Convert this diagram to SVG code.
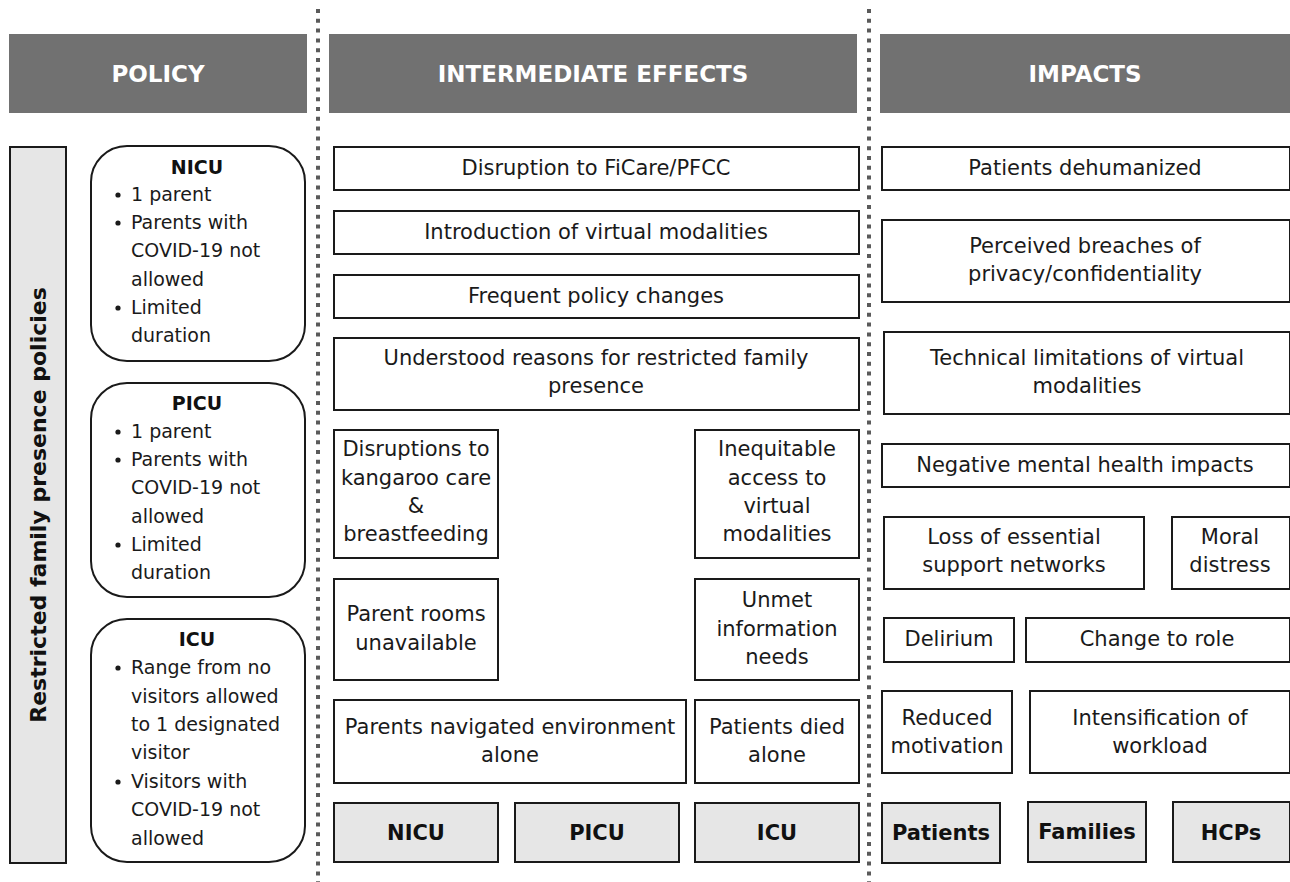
<svg xmlns="http://www.w3.org/2000/svg" width="1290" height="882" viewBox="0 0 1290 882">
<style>
  .hdr { fill: #717171; }
  .hdrt { font-family: "DejaVu Sans", sans-serif; font-weight: bold; font-size: 23px; fill: #ffffff; text-anchor: middle; }
  .vlab { font-family: "DejaVu Sans", sans-serif; font-weight: bold; font-size: 22px; fill: #111111; text-anchor: middle; }
  .box { fill: #ffffff; stroke: #1a1a1a; stroke-width: 2; }
  .gbox { fill: #e6e6e6; stroke: #1a1a1a; stroke-width: 2; }
  .t { font-family: "DejaVu Sans", sans-serif; font-size: 21px; fill: #1a1a1a; text-anchor: middle; }
  .tb { font-family: "DejaVu Sans", sans-serif; font-weight: bold; font-size: 21px; fill: #111111; text-anchor: middle; }
  .lt { font-family: "DejaVu Sans", sans-serif; font-size: 19px; fill: #1a1a1a; }
  .ltb { font-family: "DejaVu Sans", sans-serif; font-weight: bold; font-size: 19px; fill: #111111; text-anchor: middle; }
  .bul { fill: #1a1a1a; }
  .dots { stroke: #5a5a5a; stroke-width: 4; stroke-dasharray: 4 5.8; fill: none; }
</style>
<rect width="1290" height="882" fill="#ffffff"/>

<g id="dividers">
  <line class="dots" x1="318" y1="9" x2="318" y2="882"/>
  <line class="dots" x1="869" y1="9" x2="869" y2="882"/>
</g>

<g id="header-policy"><rect class="hdr" x="9" y="34" width="298" height="79"/><text class="hdrt" x="158" y="82">POLICY</text></g>
<g id="header-intermediate"><rect class="hdr" x="329" y="34" width="528" height="79"/><text class="hdrt" x="593" y="82">INTERMEDIATE EFFECTS</text></g>
<g id="header-impacts"><rect class="hdr" x="880" y="34" width="412" height="79"/><text class="hdrt" x="1085" y="82">IMPACTS</text></g>

<g id="policy-label">
  <rect class="gbox" x="10" y="147" width="56" height="716"/>
  <text class="vlab" transform="translate(46,505) rotate(-90)" x="0" y="0">Restricted family presence policies</text>
</g>

<g id="policy-nicu">
  <rect class="box" x="91" y="146" width="214" height="215" rx="36"/>
  <text class="ltb" x="197" y="174">NICU</text>
  <circle class="bul" cx="118" cy="195" r="2.6"/><text class="lt" x="131" y="201">1 parent</text>
  <circle class="bul" cx="118" cy="223" r="2.6"/><text class="lt" x="131" y="229">Parents with</text>
  <text class="lt" x="131" y="257">COVID-19 not</text>
  <text class="lt" x="131" y="286">allowed</text>
  <circle class="bul" cx="118" cy="308" r="2.6"/><text class="lt" x="131" y="314">Limited</text>
  <text class="lt" x="131" y="342">duration</text>
</g>

<g id="policy-picu">
  <rect class="box" x="91" y="383" width="214" height="214" rx="36"/>
  <text class="ltb" x="197" y="410">PICU</text>
  <circle class="bul" cx="118" cy="432" r="2.6"/><text class="lt" x="131" y="438">1 parent</text>
  <circle class="bul" cx="118" cy="460" r="2.6"/><text class="lt" x="131" y="466">Parents with</text>
  <text class="lt" x="131" y="494">COVID-19 not</text>
  <text class="lt" x="131" y="523">allowed</text>
  <circle class="bul" cx="118" cy="545" r="2.6"/><text class="lt" x="131" y="551">Limited</text>
  <text class="lt" x="131" y="579">duration</text>
</g>

<g id="policy-icu">
  <rect class="box" x="91" y="619" width="214" height="243" rx="36"/>
  <text class="ltb" x="197" y="646">ICU</text>
  <circle class="bul" cx="118" cy="668" r="2.6"/><text class="lt" x="131" y="674">Range from no</text>
  <text class="lt" x="131" y="703">visitors allowed</text>
  <text class="lt" x="131" y="731">to 1 designated</text>
  <text class="lt" x="131" y="759">visitor</text>
  <circle class="bul" cx="118" cy="782" r="2.6"/><text class="lt" x="131" y="788">Visitors with</text>
  <text class="lt" x="131" y="816">COVID-19 not</text>
  <text class="lt" x="131" y="845">allowed</text>
</g>

<g id="ie-ficare"><rect class="box" x="334" y="147" width="525" height="43"/><text class="t" x="596" y="175">Disruption to FiCare/PFCC</text></g>
<g id="ie-virtual"><rect class="box" x="334" y="211" width="525" height="43"/><text class="t" x="596" y="239">Introduction of virtual modalities</text></g>
<g id="ie-policy-changes"><rect class="box" x="334" y="275" width="525" height="43"/><text class="t" x="596" y="303">Frequent policy changes</text></g>
<g id="ie-understood"><rect class="box" x="334" y="338" width="525" height="72"/><text class="t" x="596" y="365">Understood reasons for restricted family</text><text class="t" x="596" y="393">presence</text></g>
<g id="ie-kangaroo"><rect class="box" x="334" y="430" width="164" height="128"/>
  <text class="t" x="416" y="456">Disruptions to</text><text class="t" x="416" y="485">kangaroo care</text><text class="t" x="416" y="513">&amp;</text><text class="t" x="416" y="541">breastfeeding</text></g>
<g id="ie-inequitable"><rect class="box" x="695" y="430" width="164" height="128"/>
  <text class="t" x="777" y="456">Inequitable</text><text class="t" x="777" y="485">access to</text><text class="t" x="777" y="513">virtual</text><text class="t" x="777" y="541">modalities</text></g>
<g id="ie-parent-rooms"><rect class="box" x="334" y="579" width="164" height="101"/>
  <text class="t" x="416" y="621">Parent rooms</text><text class="t" x="416" y="650">unavailable</text></g>
<g id="ie-unmet"><rect class="box" x="695" y="579" width="164" height="101"/>
  <text class="t" x="777" y="607">Unmet</text><text class="t" x="777" y="636">information</text><text class="t" x="777" y="664">needs</text></g>
<g id="ie-navigated"><rect class="box" x="334" y="700" width="352" height="83"/>
  <text class="t" x="510" y="734">Parents navigated environment</text><text class="t" x="510" y="762">alone</text></g>
<g id="ie-died"><rect class="box" x="695" y="700" width="164" height="83"/>
  <text class="t" x="777" y="734">Patients died</text><text class="t" x="777" y="762">alone</text></g>
<g id="ie-nicu"><rect class="gbox" x="334" y="803" width="164" height="59"/><text class="tb" x="416" y="840">NICU</text></g>
<g id="ie-picu"><rect class="gbox" x="515" y="803" width="164" height="59"/><text class="tb" x="597" y="840">PICU</text></g>
<g id="ie-icu"><rect class="gbox" x="695" y="803" width="164" height="59"/><text class="tb" x="777" y="840">ICU</text></g>

<g id="im-dehumanized"><rect class="box" x="882" y="147" width="408" height="43"/><text class="t" x="1085" y="175">Patients dehumanized</text></g>
<g id="im-privacy"><rect class="box" x="882" y="220" width="408" height="82"/><text class="t" x="1085" y="253">Perceived breaches of</text><text class="t" x="1085" y="281">privacy/confidentiality</text></g>
<g id="im-technical"><rect class="box" x="884" y="332" width="406" height="82"/><text class="t" x="1087" y="365">Technical limitations of virtual</text><text class="t" x="1087" y="393">modalities</text></g>
<g id="im-mental"><rect class="box" x="882" y="444" width="408" height="43"/><text class="t" x="1085" y="472">Negative mental health impacts</text></g>
<g id="im-support"><rect class="box" x="884" y="517" width="260" height="72"/><text class="t" x="1014" y="544">Loss of essential</text><text class="t" x="1014" y="572">support networks</text></g>
<g id="im-moral"><rect class="box" x="1172" y="517" width="118" height="72"/><text class="t" x="1230" y="544">Moral</text><text class="t" x="1230" y="572">distress</text></g>
<g id="im-delirium"><rect class="box" x="884" y="618" width="130" height="44"/><text class="t" x="949" y="646">Delirium</text></g>
<g id="im-role"><rect class="box" x="1026" y="618" width="264" height="44"/><text class="t" x="1157" y="646">Change to role</text></g>
<g id="im-motivation"><rect class="box" x="882" y="691" width="130" height="82"/><text class="t" x="947" y="725">Reduced</text><text class="t" x="947" y="753">motivation</text></g>
<g id="im-workload"><rect class="box" x="1030" y="691" width="260" height="82"/><text class="t" x="1160" y="725">Intensification of</text><text class="t" x="1160" y="753">workload</text></g>
<g id="im-patients"><rect class="gbox" x="882" y="803" width="118" height="60"/><text class="tb" x="941" y="840">Patients</text></g>
<g id="im-families"><rect class="gbox" x="1028" y="802" width="118" height="60"/><text class="tb" x="1087" y="839">Families</text></g>
<g id="im-hcps"><rect class="gbox" x="1173" y="802" width="117" height="60"/><text class="tb" x="1231" y="840">HCPs</text></g>

<g id="connectors"></g>
</svg>
